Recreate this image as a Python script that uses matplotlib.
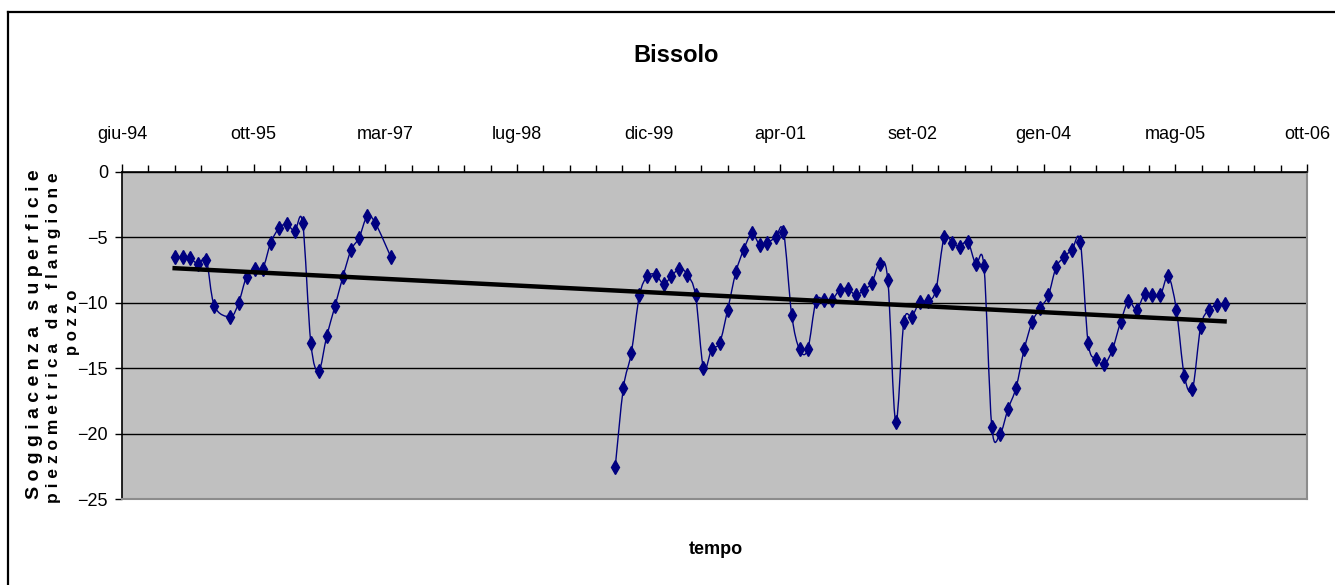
import numpy as np
import matplotlib
matplotlib.use("Agg")
import matplotlib.pyplot as plt
import matplotlib.dates as mdates
from matplotlib.path import Path
from matplotlib.patches import PathPatch
from matplotlib.lines import Line2D
from matplotlib import font_manager

dates_1 = ["1995-01", "1995-02", "1995-03", "1995-04", "1995-05", "1995-06",
           "1995-08", "1995-09", "1995-10", "1995-11", "1995-12",
           "1996-01", "1996-02", "1996-03", "1996-04", "1996-05", "1996-06",
           "1996-07", "1996-08", "1996-09", "1996-10", "1996-11", "1996-12",
           "1997-01", "1997-02", "1997-04"]
depth_1 = [-6.5, -6.5, -6.6, -7.05, -6.7, -10.25,
           -11.05, -10.0, -8.0, -7.4, -7.4,
           -5.4, -4.3, -4.0, -4.5, -3.9, -13.06,
           -15.2, -12.5, -10.25, -8.0, -5.96, -5.04,
           -3.4, -3.9, -6.5]

dates_2 = [str(d) for d in np.arange(np.datetime64("1999-08"), np.datetime64("2006-01"))]
depth_2 = [-22.55, -16.5, -13.85, -9.43, -7.98,
           -7.85, -8.56, -7.98, -7.39, -7.85, -9.43, -14.98, -13.57, -13.04, -10.53, -7.67, -5.93,
           -4.7, -5.6, -5.4, -5.0, -4.55, -10.9, -13.57, -13.57, -9.9, -9.77, -9.77, -9.0,
           -8.95, -9.43, -9.0, -8.5, -7.0, -8.23, -19.1, -11.48, -11.05, -9.92, -9.87, -9.0,
           -5.0, -5.4, -5.7, -5.34, -7.05, -7.18, -19.48, -20.05, -18.1, -16.5, -13.57, -11.48,
           -10.4, -9.43, -7.29, -6.5, -5.93, -5.34, -13.06, -14.29, -14.68, -13.57, -11.48, -9.89,
           -10.53, -9.3, -9.43, -9.43, -7.98, -10.53, -15.57, -16.6, -11.86, -10.53, -10.2, -10.12]

tick_labels = ["giu-94", "ott-95", "mar-97", "lug-98", "dic-99",
               "apr-01", "set-02", "gen-04", "mag-05", "ott-06"]
axis_start = "1994-06-15"
major_step = 500  # days
minor_step = 100

names = {f.name for f in font_manager.fontManager.ttflist}
narrow = "Liberation Sans Narrow" if "Liberation Sans Narrow" in names else "Liberation Sans"
plt.rcParams["font.family"] = [narrow, "DejaVu Sans"]

navy = "#000080"


def to_num(ds):
    return mdates.date2num(np.array([d + "-01" if len(d) == 7 else d for d in ds], dtype="datetime64[D]"))


def smooth_path(x, y):
    # excel-like smoothed line: cubic bezier through every point
    pts = np.column_stack([x, y])
    n = len(pts)
    verts = [pts[0]]
    codes = [Path.MOVETO]
    for i in range(n - 1):
        p0 = pts[max(i - 1, 0)]
        p1 = pts[i]
        p2 = pts[i + 1]
        p3 = pts[min(i + 2, n - 1)]
        verts += [p1 + (p2 - p0) / 6, p2 - (p3 - p1) / 6, p2]
        codes += [Path.CURVE4] * 3
    return Path(verts, codes)


fig = plt.figure(figsize=(13.35, 5.85), dpi=100)
ax = fig.add_axes([122 / 1335, 1 - 499 / 585, 1185 / 1335, 327 / 585])
ax.set_facecolor("#C0C0C0")

x1 = to_num(dates_1)
x2 = to_num(dates_2)
for xs, ys in [(x1, depth_1), (x2, depth_2)]:
    ax.add_patch(PathPatch(smooth_path(xs, np.array(ys)), facecolor="none",
                           edgecolor=navy, lw=1.0, zorder=3))
    ax.plot(xs, ys, ls="none", marker="d", ms=7, color=navy, zorder=4)

# linear trend over all readings
xa = np.concatenate([x1, x2])
ya = np.concatenate([depth_1, depth_2])
k, b = np.polyfit(xa, ya, 1)
xt = np.array([xa.min(), xa.max()])
ax.plot(xt, k * xt + b, color="black", lw=3.2, zorder=5)

x0 = to_num([axis_start])[0]
ax.set_xlim(x0, x0 + 9 * major_step)
ax.set_ylim(-25, 0)
ax.set_xticks([x0 + i * major_step for i in range(10)])
ax.set_xticklabels(tick_labels)
ax.set_xticks(np.arange(x0, x0 + 9 * major_step + 1, minor_step), minor=True)
ax.set_yticks(range(-25, 1, 5))
ax.yaxis.grid(True, color="black", lw=1.0)
ax.set_axisbelow(True)

ax.xaxis.tick_top()
ax.tick_params(axis="x", which="major", length=6, width=1, pad=15, labelsize=13)
ax.tick_params(axis="x", which="minor", length=5, width=1, top=True, bottom=False)
ax.tick_params(axis="y", length=5, width=1, pad=5, labelsize=13)

for side in ["top", "left"]:
    ax.spines[side].set_color("black")
    ax.spines[side].set_linewidth(1.2)
for side in ["right", "bottom"]:
    ax.spines[side].set_color("#8c8c8c")
    ax.spines[side].set_linewidth(1.5)

fig.text(676 / 1335, 1 - 55 / 585, "Bissolo", ha="center", va="center",
         fontsize=17, fontweight="bold")
fig.text(716 / 1335, 1 - 549 / 585, "tempo", ha="center", va="center",
         fontsize=13, fontweight="bold")

ylab = [("S o g g i a c e n z a   s u p e r f i c i e", 35, 334, 14),
        ("p i e z o m e t r i c a   d a   f l a n g i o n e", 54, 338, 12.5),
        ("p o z z o", 73, 322, 12)]
for txt, px, py, fs in ylab:
    fig.text(px / 1335, 1 - py / 585, txt, rotation=90, ha="center", va="center",
             fontsize=fs, fontweight="bold")

# chart area border (top and left edges visible)
fig.add_artist(Line2D([8 / 1335, 8 / 1335], [0, 1 - 12 / 585], color="black", lw=1.6))
fig.add_artist(Line2D([8 / 1335, 1], [1 - 12 / 585, 1 - 12 / 585], color="black", lw=1.6))

fig.savefig("out.png", dpi=100)
